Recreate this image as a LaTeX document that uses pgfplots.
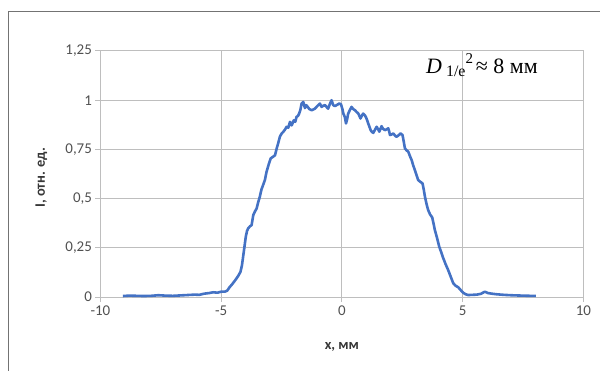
\documentclass[border=0pt]{standalone}
\usepackage{fontspec}
\setmainfont{Carlito}
\newfontfamily\timesf{Liberation Serif}
\usepackage{pgfplots}
\pgfplotsset{compat=1.18}
\definecolor{exblue}{RGB}{68,114,196}
\definecolor{gridc}{RGB}{190,190,190}
\definecolor{tickc}{RGB}{80,80,80}
\definecolor{labc}{RGB}{55,55,55}
\begin{document}
\begin{tikzpicture}[x=1bp,y=1bp]
\useasboundingbox (0,0) rectangle (600,370);
\draw[color=black!55, line width=0.8bp] (8.4,-5) -- (8.4,359) -- (605,359);
\begin{axis}[
  at={(100.4bp,73bp)}, anchor=south west,
  scale only axis, width=483bp, height=246bp,
  xmin=-10, xmax=10, ymin=0, ymax=1.25,
  xtick={-10,-5,0,5,10},
  ytick={0,0.25,0.5,0.75,1,1.25},
  yticklabels={0,{0,25},{0,5},{0,75},1,{1,25}},
  grid=major,
  major grid style={color=gridc, line width=1bp},
  axis line style={color=gridc, line width=1bp},
  tick style={color=gridc, line width=1bp},
  tick align=outside, major tick length=5bp,
  xtick pos=bottom, ytick pos=left,
  /pgf/number format/assume math mode=true,
  ticklabel style={font=\fontsize{15}{17}\selectfont, text=tickc},
  xlabel={x, мм},
  ylabel={I, отн. ед.},
  label style={font=\fontsize{14.5}{16}\selectfont\bfseries, text=labc},
  xlabel style={at={(axis description cs:0.5,0)}, anchor=center, yshift=-50bp},
  ylabel style={at={(axis description cs:0,0.484)}, anchor=center, yshift=59bp},
  clip=false,
]
\addplot[color=exblue, line width=2.6bp, line join=round] coordinates {
(-9.07,0.005) (-8.8,0.007) (-8.5,0.006) (-8.2,0.005) (-7.9,0.006) (-7.6,0.009)
(-7.3,0.007) (-7.0,0.006) (-6.7,0.008) (-6.4,0.010) (-6.1,0.012) (-5.9,0.011)
(-5.7,0.017) (-5.5,0.020) (-5.33,0.024) (-5.15,0.022) (-5.0,0.027) (-4.85,0.027)
(-4.75,0.032) (-4.65,0.05) (-4.57,0.061) (-4.45,0.08) (-4.36,0.095) (-4.28,0.11)
(-4.2,0.128) (-4.14,0.16) (-4.09,0.205) (-4.03,0.26) (-3.98,0.306) (-3.93,0.335)
(-3.88,0.349) (-3.8,0.36) (-3.74,0.365) (-3.67,0.416) (-3.6,0.435) (-3.53,0.45)
(-3.47,0.48) (-3.40,0.509) (-3.33,0.547) (-3.26,0.57) (-3.19,0.594) (-3.12,0.636)
(-3.04,0.67) (-2.95,0.704) (-2.86,0.712) (-2.77,0.72) (-2.70,0.755) (-2.63,0.785)
(-2.57,0.814) (-2.50,0.83) (-2.43,0.839) (-2.36,0.85) (-2.29,0.865) (-2.22,0.86)
(-2.15,0.89) (-2.08,0.872) (-1.99,0.898) (-1.93,0.89) (-1.88,0.915) (-1.82,0.92)
(-1.77,0.932) (-1.72,0.95) (-1.67,0.983) (-1.60,0.991) (-1.53,0.96) (-1.48,0.975)
(-1.44,0.97) (-1.35,0.955) (-1.25,0.949) (-1.18,0.953) (-1.12,0.957) (-1.02,0.97)
(-0.91,0.983) (-0.84,0.966) (-0.77,0.972) (-0.70,0.975) (-0.63,0.965) (-0.57,0.957)
(-0.50,0.98) (-0.43,1.0) (-0.36,0.975) (-0.29,0.97) (-0.22,0.975) (-0.11,0.983)
(-0.04,0.98) (0.02,0.955) (0.06,0.932) (0.12,0.915) (0.17,0.882) (0.22,0.905)
(0.26,0.932) (0.33,0.95) (0.40,0.966) (0.47,0.955) (0.54,0.949) (0.61,0.94)
(0.68,0.932) (0.77,0.907) (0.82,0.92) (0.88,0.932) (0.94,0.925) (0.99,0.915)
(1.04,0.9) (1.09,0.882) (1.14,0.865) (1.19,0.848) (1.25,0.838) (1.30,0.834)
(1.37,0.85) (1.44,0.865) (1.50,0.852) (1.55,0.84) (1.60,0.855) (1.64,0.868)
(1.70,0.855) (1.78,0.848) (1.85,0.852) (1.92,0.857) (1.96,0.84) (1.99,0.823)
(2.06,0.826) (2.13,0.831) (2.20,0.82) (2.26,0.814) (2.35,0.822) (2.43,0.831)
(2.51,0.823) (2.56,0.79) (2.61,0.755) (2.68,0.745) (2.75,0.738) (2.82,0.715)
(2.89,0.695) (2.95,0.67) (3.02,0.645) (3.09,0.62) (3.16,0.594) (3.25,0.585)
(3.34,0.577) (3.39,0.545) (3.44,0.509) (3.50,0.475) (3.57,0.442) (3.65,0.42)
(3.74,0.404) (3.80,0.37) (3.85,0.34) (3.94,0.3) (4.03,0.256) (4.12,0.225)
(4.20,0.196) (4.30,0.165) (4.40,0.137) (4.50,0.105) (4.61,0.07) (4.70,0.058)
(4.82,0.049) (4.92,0.035) (5.02,0.022) (5.12,0.014) (5.23,0.01) (5.4,0.011)
(5.58,0.012) (5.75,0.016) (5.92,0.027) (6.05,0.02) (6.2,0.017) (6.4,0.014)
(6.7,0.011) (7.0,0.009) (7.23,0.008) (7.5,0.007) (7.8,0.006) (8.03,0.006)
};
\end{axis}
\node[anchor=base west, inner sep=0pt, font=\timesf\fontsize{22}{24}\selectfont] at (426,297)
  {\textit{D}\hspace{4bp}\raisebox{-3.5bp}{\fontsize{16}{17}\selectfont 1/e}\raisebox{10bp}{\fontsize{15}{16}\selectfont 2}\hspace{3bp}≈ 8 мм};
\end{tikzpicture}
\end{document}
